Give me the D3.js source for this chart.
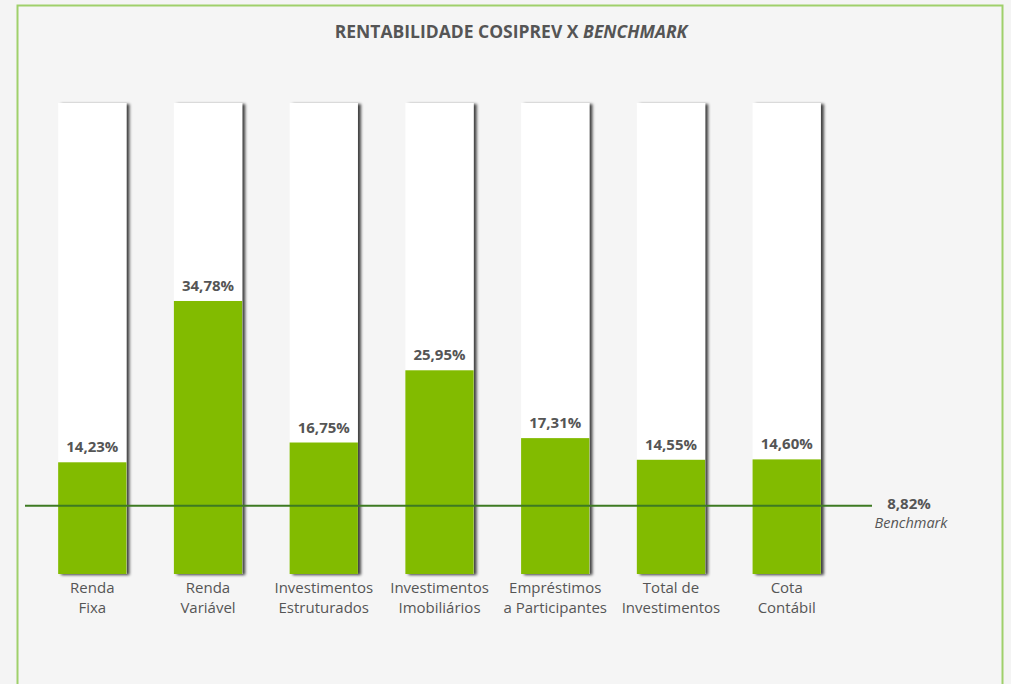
<!DOCTYPE html>
<html>
<head>
<meta charset="utf-8">
<script src="https://cdn.jsdelivr.net/npm/d3@7"></script>
<style>
  body { margin: 0; background: #f4f4f4; }
  svg { display: block; font-family: "Open Sans", "Noto Sans", sans-serif; }
</style>
</head>
<body>
<script>
// categories (two lines each) and values in %
var categories = [
    ["Renda", "Fixa"],
    ["Renda", "Variável"],
    ["Investimentos", "Estruturados"],
    ["Investimentos", "Imobiliários"],
    ["Empréstimos", "a Participantes"],
    ["Total de", "Investimentos"],
    ["Cota", "Contábil"]
];
var values = [14.23, 34.78, 16.75, 25.95, 17.31, 14.55, 14.60];
var valueLabels = ["14,23%", "34,78%", "16,75%", "25,95%", "17,31%", "14,55%", "14,60%"];
var benchmark = 8.82;
var benchmarkLabel = "8,82%";
var maxValue = 60;

var svg_width = 1011;
var svg_height = 684;

var svg = d3.select("body")
    .append("svg")
    .attr("width", svg_width)
    .attr("height", svg_height);

// drop shadow on the right side of the bars
var defs = svg.append("defs");
var f = defs.append("filter").attr("id", "shadow")
    .attr("x", "-10%").attr("y", "-5%").attr("width", "130%").attr("height", "115%");
f.append("feGaussianBlur").attr("in", "SourceAlpha").attr("stdDeviation", 1.6);
f.append("feOffset").attr("dx", 3).attr("dy", 1).attr("result", "blur");
f.append("feComponentTransfer").append("feFuncA").attr("type", "linear").attr("slope", 0.75);
var merge = f.append("feMerge");
merge.append("feMergeNode");
merge.append("feMergeNode").attr("in", "SourceGraphic");

// frame
svg.append("rect")
    .attr("x", 17.5).attr("y", 5.5)
    .attr("width", 985).attr("height", 700)
    .attr("fill", "#f5f5f5")
    .attr("stroke", "#9fd06b")
    .attr("stroke-width", 2);

// title
var title = svg.append("text")
    .attr("x", 511).attr("y", 38)
    .attr("text-anchor", "middle")
    .attr("font-size", 17.5)
    .attr("font-weight", "bold")
    .attr("fill", "#555");
title.append("tspan").text("RENTABILIDADE COSIPREV X ");
title.append("tspan").attr("font-style", "italic").text("BENCHMARK");

var x = d3.scaleBand()
    .domain(d3.range(values.length))
    .range([35, 844])
    .paddingInner(0.41)
    .paddingOuter(0.2);

var y = d3.scaleLinear()
    .domain([0, maxValue])
    .range([574, 103]);

var g = svg.append("g");

// white background bars (full scale)
g.selectAll(".bg")
    .data(values)
    .enter()
    .append("rect")
    .attr("x", function(d, i) { return x(i); })
    .attr("y", y(maxValue))
    .attr("width", x.bandwidth())
    .attr("height", y(0) - y(maxValue))
    .attr("fill", "#fff")
    .attr("filter", "url(#shadow)");

// green value bars
g.selectAll(".bar")
    .data(values)
    .enter()
    .append("rect")
    .attr("x", function(d, i) { return x(i); })
    .attr("y", function(d) { return y(d); })
    .attr("width", x.bandwidth())
    .attr("height", function(d) { return y(0) - y(d); })
    .attr("fill", "#82bb00");

// value labels
g.selectAll(".val")
    .data(values)
    .enter()
    .append("text")
    .attr("x", function(d, i) { return x(i) + x.bandwidth() / 2; })
    .attr("y", function(d) { return y(d) - 10; })
    .attr("text-anchor", "middle")
    .attr("font-size", 15)
    .attr("font-weight", "bold")
    .attr("fill", "#555")
    .text(function(d, i) { return valueLabels[i]; });

// category labels
var cat = g.selectAll(".cat")
    .data(categories)
    .enter()
    .append("text")
    .attr("text-anchor", "middle")
    .attr("font-size", 15)
    .attr("fill", "#555");
cat.each(function(d, i) {
    var t = d3.select(this);
    d.forEach(function(line, k) {
        t.append("tspan")
            .attr("x", x(i) + x.bandwidth() / 2)
            .attr("y", 593 + k * 20)
            .text(line);
    });
});

// benchmark line
svg.append("line")
    .attr("x1", 25).attr("x2", 872)
    .attr("y1", y(benchmark) + 1).attr("y2", y(benchmark) + 1)
    .attr("stroke", "#3d7a22")
    .attr("stroke-width", 2);

svg.append("text")
    .attr("x", 909).attr("y", y(benchmark) + 4)
    .attr("text-anchor", "middle")
    .attr("font-size", 15)
    .attr("font-weight", "bold")
    .attr("fill", "#555")
    .text(benchmarkLabel);
svg.append("text")
    .attr("x", 911).attr("y", y(benchmark) + 23)
    .attr("text-anchor", "middle")
    .attr("font-size", 14.5)
    .attr("font-style", "italic")
    .attr("fill", "#555")
    .text("Benchmark");
</script>
</body>
</html>
